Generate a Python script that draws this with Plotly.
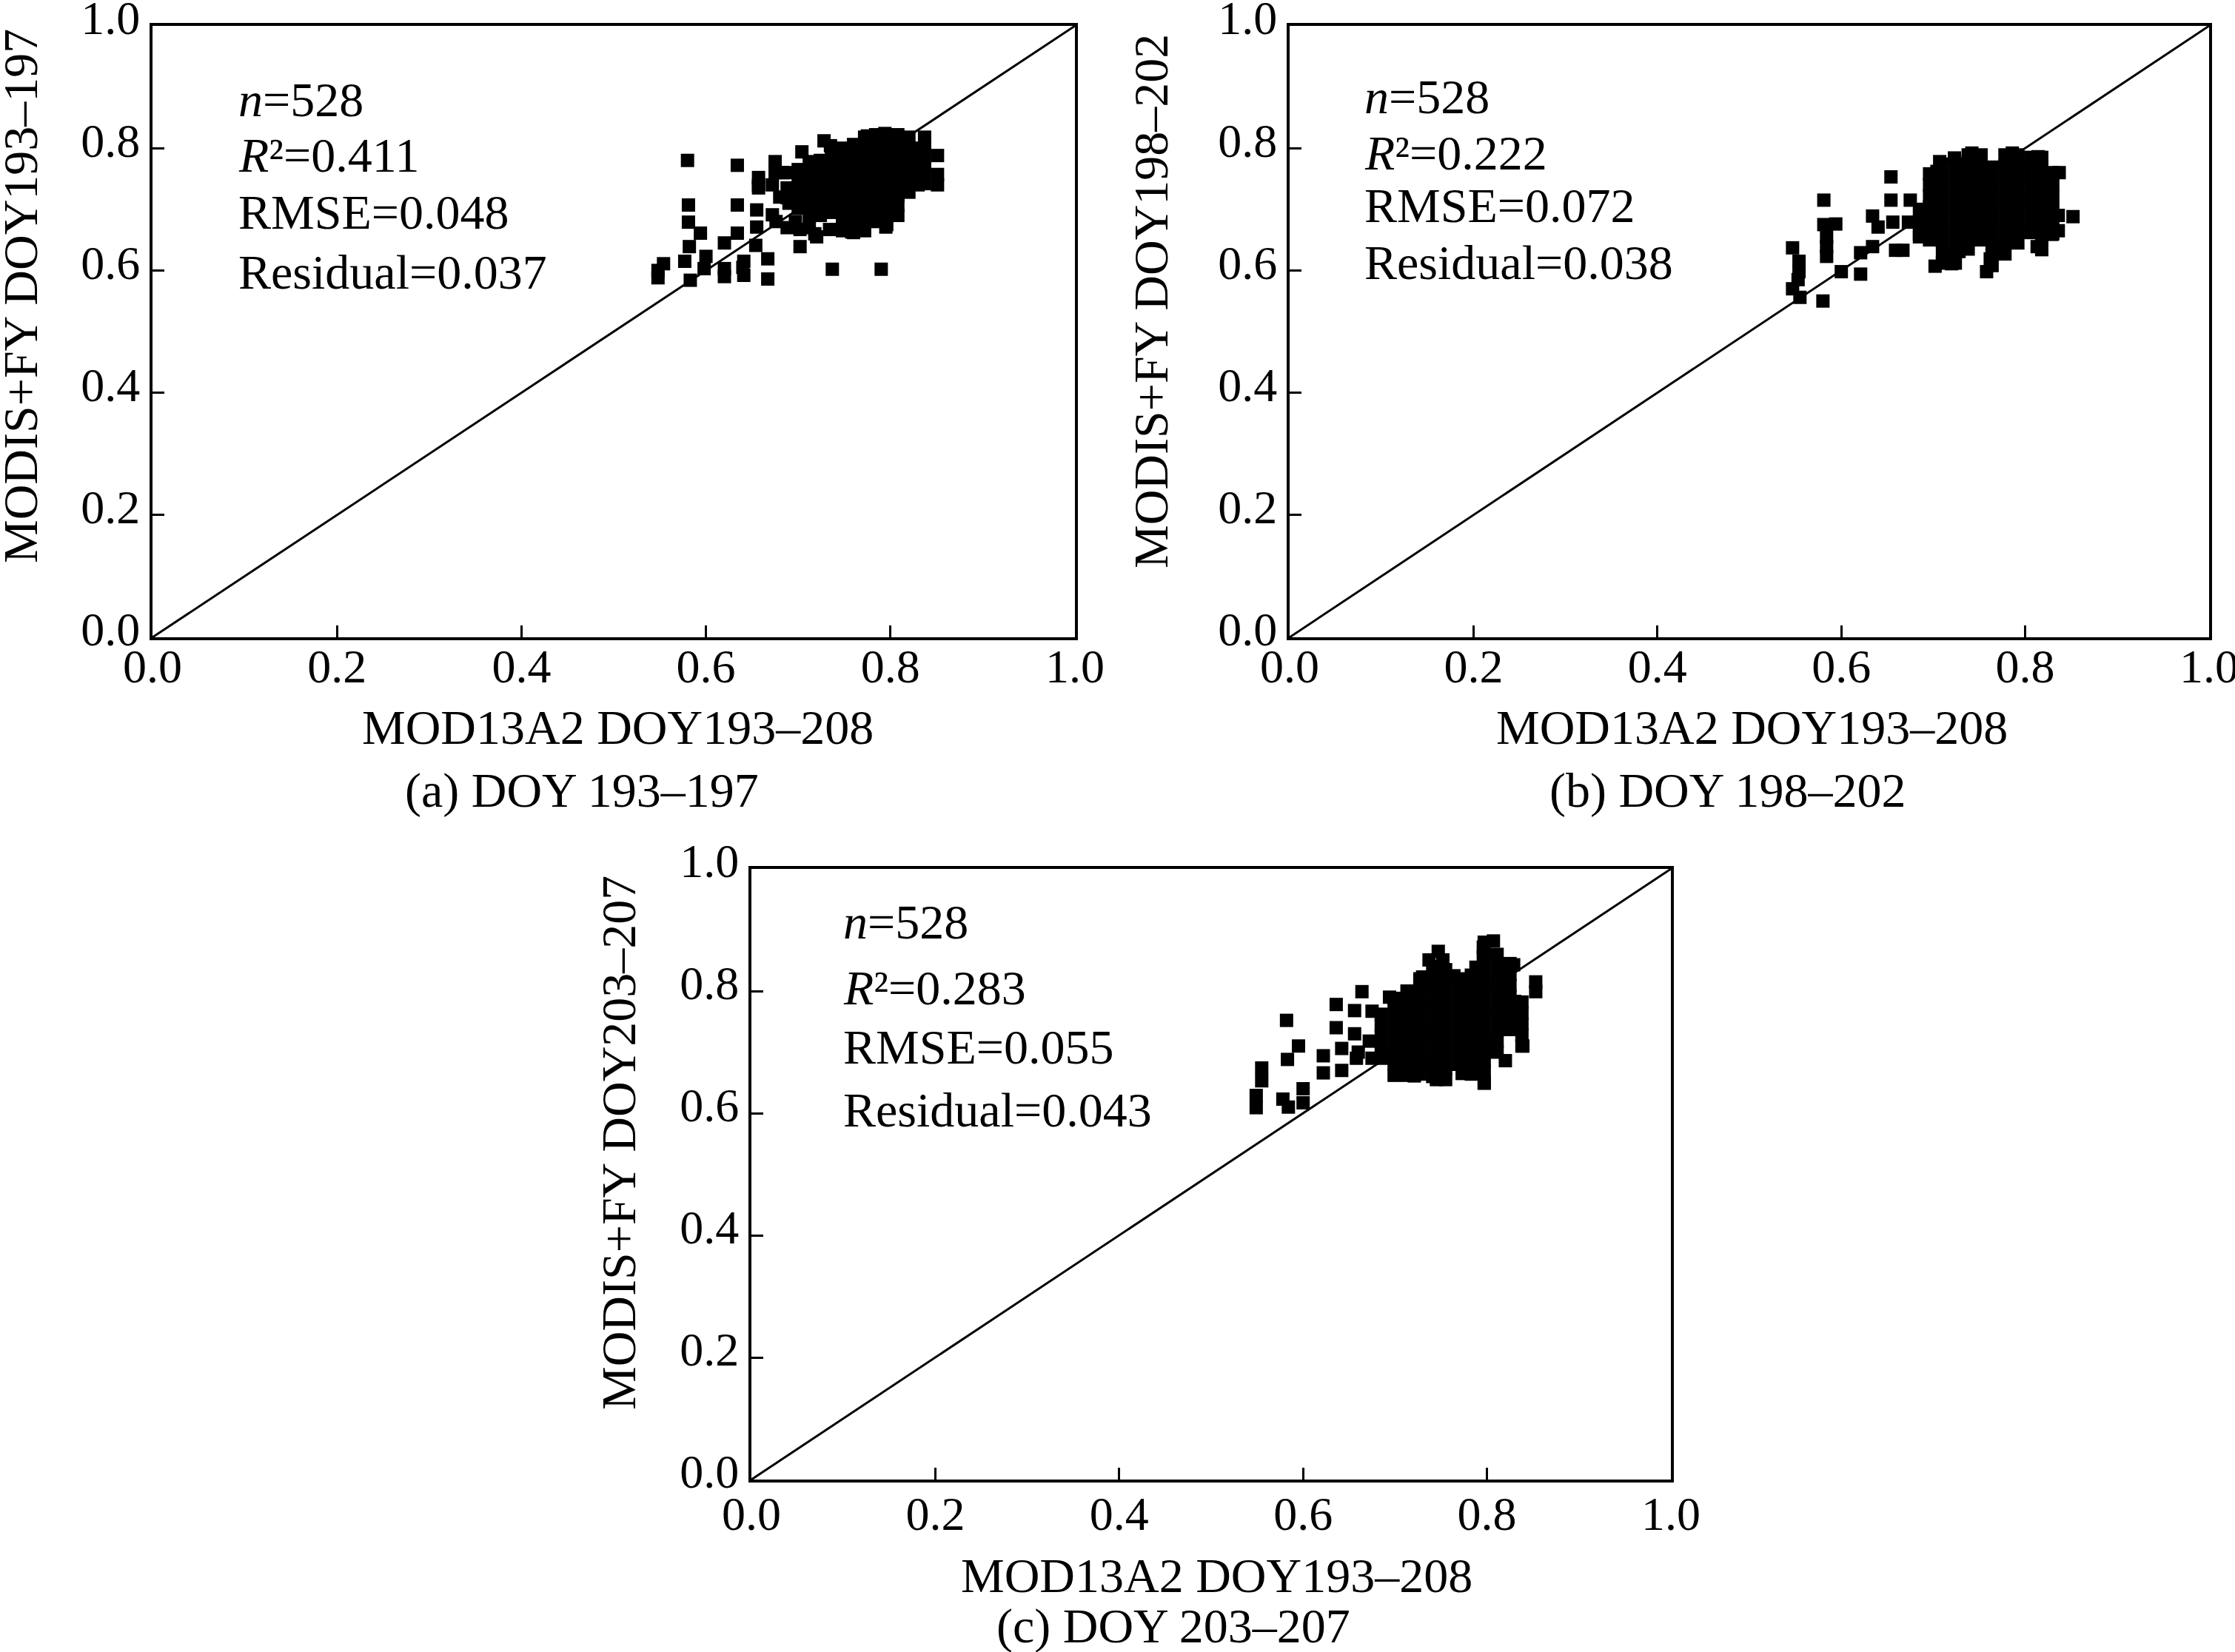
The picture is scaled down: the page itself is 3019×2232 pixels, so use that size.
import plotly.graph_objects as go

W, H = 3019, 2232
FONT = "Liberation Serif, Times New Roman, serif"

# points: (MOD13A2, MODIS+FY)
# isolated squares around each cloud
outliers_a = [
    (0.548, 0.600), (0.554, 0.611), (0.548, 0.588), (0.580, 0.780), (0.581, 0.707),
    (0.581, 0.679), (0.594, 0.661), (0.582, 0.639), (0.577, 0.615), (0.583, 0.584),
    (0.600, 0.623), (0.598, 0.603), (0.620, 0.603), (0.620, 0.645), (0.620, 0.590),
    (0.634, 0.772), (0.634, 0.707), (0.634, 0.661), (0.640, 0.605), (0.641, 0.592),
    (0.641, 0.615), (0.655, 0.671), (0.655, 0.699), (0.654, 0.641), (0.657, 0.740),
    (0.657, 0.752), (0.667, 0.619), (0.667, 0.586), (0.672, 0.691), (0.675, 0.778),
    (0.683, 0.760), (0.688, 0.719), (0.702, 0.639), (0.702, 0.667), (0.704, 0.794),
    (0.720, 0.655), (0.734, 0.667), (0.735, 0.804), (0.737, 0.602), (0.758, 0.663),
    (0.775, 0.820), (0.790, 0.602), (0.794, 0.824), (0.795, 0.671), (0.837, 0.818),
    (0.837, 0.760), (0.851, 0.788), (0.851, 0.757), (0.851, 0.740), (0.837, 0.800),
    (0.837, 0.780), (0.837, 0.742), (0.672, 0.740), (0.680, 0.720), (0.676, 0.680),
    (0.690, 0.710), (0.688, 0.670), (0.697, 0.680), (0.718, 0.660), (0.657, 0.735),
    (0.728, 0.812), (0.688, 0.735), (0.675, 0.760), (0.688, 0.760),
]
# the solid core of the cloud
core_a = [
    (0.700, 0.702), (0.700, 0.718), (0.700, 0.734), (0.700, 0.750), (0.700, 0.765),
    (0.712, 0.670), (0.712, 0.688), (0.712, 0.706), (0.712, 0.724), (0.712, 0.742),
    (0.712, 0.760), (0.712, 0.778),
    (0.724, 0.690), (0.724, 0.708), (0.724, 0.726), (0.724, 0.744), (0.724, 0.762),
    (0.724, 0.780),
    (0.736, 0.695), (0.736, 0.713), (0.736, 0.731), (0.736, 0.749), (0.736, 0.767),
    (0.736, 0.785),
    (0.748, 0.665), (0.748, 0.683), (0.748, 0.701), (0.748, 0.719), (0.748, 0.737),
    (0.748, 0.755), (0.748, 0.773), (0.748, 0.791), (0.748, 0.800),
    (0.760, 0.662), (0.760, 0.680), (0.760, 0.698), (0.760, 0.716), (0.760, 0.734),
    (0.760, 0.752), (0.760, 0.770), (0.760, 0.788), (0.760, 0.806),
    (0.772, 0.665), (0.772, 0.683), (0.772, 0.701), (0.772, 0.719), (0.772, 0.737),
    (0.772, 0.755), (0.772, 0.773), (0.772, 0.791), (0.772, 0.809), (0.772, 0.818),
    (0.784, 0.680), (0.784, 0.698), (0.784, 0.716), (0.784, 0.734), (0.784, 0.752),
    (0.784, 0.770), (0.784, 0.788), (0.784, 0.806), (0.784, 0.822),
    (0.796, 0.675), (0.796, 0.693), (0.796, 0.711), (0.796, 0.729), (0.796, 0.747),
    (0.796, 0.765), (0.796, 0.783), (0.796, 0.801), (0.796, 0.819),
    (0.808, 0.690), (0.808, 0.706), (0.808, 0.722), (0.808, 0.738), (0.808, 0.754),
    (0.808, 0.770), (0.808, 0.788), (0.808, 0.806), (0.808, 0.822),
    (0.820, 0.728), (0.820, 0.746), (0.820, 0.764), (0.820, 0.782), (0.820, 0.800),
    (0.820, 0.818),
    (0.830, 0.740), (0.830, 0.760), (0.830, 0.780), (0.830, 0.800),
]

outliers_b = [
    (0.547, 0.637), (0.554, 0.615), (0.554, 0.598), (0.553, 0.585), (0.547, 0.570),
    (0.555, 0.556), (0.580, 0.550), (0.581, 0.715), (0.581, 0.675), (0.594, 0.676),
    (0.584, 0.655), (0.584, 0.639), (0.584, 0.623), (0.600, 0.598), (0.621, 0.594),
    (0.621, 0.629), (0.634, 0.639), (0.634, 0.689), (0.640, 0.671), (0.654, 0.753),
    (0.654, 0.715), (0.656, 0.679), (0.659, 0.633), (0.667, 0.633), (0.675, 0.715),
    (0.673, 0.679), (0.685, 0.655), (0.702, 0.607), (0.720, 0.611), (0.720, 0.625),
    (0.728, 0.631), (0.758, 0.598), (0.762, 0.619), (0.777, 0.639), (0.791, 0.651),
    (0.813, 0.639), (0.829, 0.659), (0.852, 0.688), (0.827, 0.715), (0.837, 0.760),
    (0.814, 0.786), (0.786, 0.792), (0.742, 0.792), (0.723, 0.784), (0.707, 0.778),
    (0.704, 0.762),
]
core_b = [
    (0.685, 0.660), (0.685, 0.680), (0.685, 0.700),
    (0.696, 0.650), (0.696, 0.668), (0.696, 0.686), (0.696, 0.704), (0.696, 0.722),
    (0.696, 0.740), (0.696, 0.758),
    (0.710, 0.612), (0.710, 0.630), (0.710, 0.648), (0.710, 0.666), (0.710, 0.684),
    (0.710, 0.702), (0.710, 0.720), (0.710, 0.738), (0.710, 0.756), (0.710, 0.774),
    (0.724, 0.612), (0.724, 0.630), (0.724, 0.648), (0.724, 0.666), (0.724, 0.684),
    (0.724, 0.702), (0.724, 0.720), (0.724, 0.738), (0.724, 0.756), (0.724, 0.774),
    (0.738, 0.635), (0.738, 0.653), (0.738, 0.671), (0.738, 0.689), (0.738, 0.707),
    (0.738, 0.725), (0.738, 0.743), (0.738, 0.761), (0.738, 0.779), (0.738, 0.789),
    (0.752, 0.650), (0.752, 0.668), (0.752, 0.686), (0.752, 0.704), (0.752, 0.722),
    (0.752, 0.740), (0.752, 0.758), (0.752, 0.776), (0.752, 0.789),
    (0.764, 0.608), (0.764, 0.626), (0.764, 0.644), (0.764, 0.662), (0.764, 0.680),
    (0.764, 0.698), (0.764, 0.716), (0.764, 0.734), (0.764, 0.752), (0.764, 0.769),
    (0.778, 0.627), (0.778, 0.645), (0.778, 0.663), (0.778, 0.681), (0.778, 0.699),
    (0.778, 0.717), (0.778, 0.735), (0.778, 0.753), (0.778, 0.771), (0.778, 0.789),
    (0.792, 0.645), (0.792, 0.663), (0.792, 0.681), (0.792, 0.699), (0.792, 0.717),
    (0.792, 0.735), (0.792, 0.753), (0.792, 0.771), (0.792, 0.789),
    (0.806, 0.662), (0.806, 0.680), (0.806, 0.698), (0.806, 0.716), (0.806, 0.734),
    (0.806, 0.752), (0.806, 0.770), (0.806, 0.785),
    (0.818, 0.634), (0.818, 0.652), (0.818, 0.670), (0.818, 0.688), (0.818, 0.706),
    (0.818, 0.724), (0.818, 0.742), (0.818, 0.760), (0.818, 0.778), (0.818, 0.785),
    (0.830, 0.660), (0.830, 0.680), (0.830, 0.700), (0.830, 0.720), (0.830, 0.740),
    (0.830, 0.760),
    (0.836, 0.665), (0.836, 0.690),
]

outliers_c = [
    (0.549, 0.609), (0.549, 0.629), (0.555, 0.653), (0.555, 0.674), (0.578, 0.623),
    (0.584, 0.610), (0.582, 0.752), (0.583, 0.688), (0.595, 0.710), (0.600, 0.640),
    (0.600, 0.617), (0.622, 0.694), (0.622, 0.666), (0.636, 0.778), (0.636, 0.740),
    (0.642, 0.706), (0.642, 0.670), (0.656, 0.768), (0.664, 0.799), (0.656, 0.730),
    (0.658, 0.690), (0.675, 0.767), (0.672, 0.718), (0.686, 0.694), (0.694, 0.790),
    (0.703, 0.663), (0.721, 0.661), (0.745, 0.655), (0.737, 0.851), (0.747, 0.865),
    (0.752, 0.851), (0.730, 0.823), (0.764, 0.825), (0.796, 0.872), (0.807, 0.882),
    (0.829, 0.843), (0.853, 0.815), (0.853, 0.799), (0.830, 0.783), (0.837, 0.742),
    (0.839, 0.710), (0.820, 0.686), (0.797, 0.649), (0.773, 0.665), (0.790, 0.665),
    (0.802, 0.710), (0.788, 0.839), (0.796, 0.856), (0.660, 0.700), (0.675, 0.690),
    (0.690, 0.700),
]
core_c = [
    (0.685, 0.690), (0.685, 0.708), (0.685, 0.726), (0.685, 0.744), (0.685, 0.762),
    (0.699, 0.662), (0.699, 0.680), (0.699, 0.698), (0.699, 0.716), (0.699, 0.734),
    (0.699, 0.752), (0.699, 0.770), (0.699, 0.788),
    (0.713, 0.662), (0.713, 0.680), (0.713, 0.698), (0.713, 0.716), (0.713, 0.734),
    (0.713, 0.752), (0.713, 0.770), (0.713, 0.788), (0.713, 0.800),
    (0.727, 0.664), (0.727, 0.682), (0.727, 0.700), (0.727, 0.718), (0.727, 0.736),
    (0.727, 0.754), (0.727, 0.772), (0.727, 0.790), (0.727, 0.808), (0.727, 0.820),
    (0.741, 0.660), (0.741, 0.678), (0.741, 0.696), (0.741, 0.714), (0.741, 0.732),
    (0.741, 0.750), (0.741, 0.768), (0.741, 0.786), (0.741, 0.804), (0.741, 0.822),
    (0.741, 0.840),
    (0.755, 0.655), (0.755, 0.673), (0.755, 0.691), (0.755, 0.709), (0.755, 0.727),
    (0.755, 0.745), (0.755, 0.763), (0.755, 0.781), (0.755, 0.799), (0.755, 0.817),
    (0.755, 0.835),
    (0.769, 0.680), (0.769, 0.698), (0.769, 0.716), (0.769, 0.734), (0.769, 0.752),
    (0.769, 0.770), (0.769, 0.788), (0.769, 0.806), (0.769, 0.820),
    (0.783, 0.664), (0.783, 0.682), (0.783, 0.700), (0.783, 0.718), (0.783, 0.736),
    (0.783, 0.754), (0.783, 0.772), (0.783, 0.790), (0.783, 0.808), (0.783, 0.826),
    (0.797, 0.650), (0.797, 0.668), (0.797, 0.686), (0.797, 0.704), (0.797, 0.722),
    (0.797, 0.740), (0.797, 0.758), (0.797, 0.776), (0.797, 0.794), (0.797, 0.812),
    (0.797, 0.830), (0.797, 0.848), (0.797, 0.866), (0.797, 0.880),
    (0.811, 0.700), (0.811, 0.718), (0.811, 0.736), (0.811, 0.754), (0.811, 0.772),
    (0.811, 0.790), (0.811, 0.808), (0.811, 0.826), (0.811, 0.844), (0.811, 0.860),
    (0.825, 0.737), (0.825, 0.755), (0.825, 0.773), (0.825, 0.791), (0.825, 0.809),
    (0.825, 0.827), (0.825, 0.845),
    (0.838, 0.710), (0.838, 0.728), (0.838, 0.746), (0.838, 0.764), (0.838, 0.782),
]

stats_a = ["<i>n</i>=528", "<i>R</i>²=0.411", "RMSE=0.048", "Residual=0.037"]
stats_b = ["<i>n</i>=528", "<i>R</i>²=0.222", "RMSE=0.072", "Residual=0.038"]
stats_c = ["<i>n</i>=528", "<i>R</i>²=0.283", "RMSE=0.055", "Residual=0.043"]

x_title = "MOD13A2 DOY193–208"
y_titles = ["MODIS+FY DOY193–197", "MODIS+FY DOY198–202", "MODIS+FY DOY203–207"]
captions = ["(a) DOY 193–197", "(b) DOY 198–202", "(c) DOY 203–207"]
tick_vals = [0.0, 0.2, 0.4, 0.6, 0.8, 1.0]
one_to_one = [0.0, 1.0]

# panel boxes in pixels (left, right, top, bottom) and text placement
panels = [
    dict(box=(206, 1452, 35, 861), pts=outliers_a + core_a, stats=stats_a,
         sx=0.0915, sy=[0.880, 0.789, 0.695, 0.598], xpad=-20,
         xt=(835, 982), cap=(786, 1068), yt=(27, 400)),
    dict(box=(1742, 2984, 35, 861), pts=outliers_b + core_b, stats=stats_b,
         sx=0.0797, sy=[0.884, 0.792, 0.707, 0.613], xpad=-20,
         xt=(2366, 982), cap=(2334, 1068), yt=(1555, 407)),
    dict(box=(1015, 2257, 1174, 1999), pts=outliers_c + core_c, stats=stats_c,
         sx=0.0982, sy=[0.913, 0.806, 0.709, 0.606], xpad=-13,
         xt=(1643, 2128), cap=(1585, 2197), yt=(835, 1544)),
]


def px(X):
    return X / W


def py(Y):
    return 1 - Y / H


fig = go.Figure()
annotations = []
text_font = dict(family=FONT, size=66, color="black")

for i, p in enumerate(panels):
    n = "" if i == 0 else str(i + 1)
    xs = [pt[0] for pt in p["pts"]]
    ys = [pt[1] for pt in p["pts"]]

    # 1:1 line first so the squares sit on top of it
    fig.add_trace(
        go.Scatter(
            x=one_to_one, y=one_to_one, mode="lines",
            line=dict(color="black", width=3),
            xaxis="x" + n, yaxis="y" + n, showlegend=False,
        )
    )
    fig.add_trace(
        go.Scatter(
            x=xs, y=ys, mode="markers",
            marker=dict(symbol="square", size=18, color="black"),
            xaxis="x" + n, yaxis="y" + n, showlegend=False,
        )
    )

    left, right, top, bottom = p["box"]
    axis_style = dict(
        range=[0, 1], tickvals=tick_vals, tickformat=".1f",
        ticks="inside", ticklen=16, tickwidth=3, tickcolor="black",
        showline=True, linecolor="black", linewidth=4, mirror=True,
        showgrid=False, zeroline=False, automargin=False,
        ticklabeloverflow="allow",
        tickfont=dict(family=FONT, size=64, color="black"),
    )
    fig.update_layout(
        {
            "xaxis" + n: dict(axis_style, domain=[px(left), px(right)], anchor="y" + n,
                              ticklabelstandoff=p["xpad"]),
            "yaxis" + n: dict(axis_style, domain=[py(bottom), py(top)], anchor="x" + n,
                              ticklabelshift=-11),
        }
    )

    for text, yv in zip(p["stats"], p["sy"]):
        annotations.append(
            dict(text=text, x=p["sx"], y=yv, xref="x" + n, yref="y" + n,
                 xanchor="left", yanchor="middle", showarrow=False, font=text_font)
        )

    annotations.append(
        dict(text=x_title, x=px(p["xt"][0]), y=py(p["xt"][1]), xref="paper", yref="paper",
             xanchor="center", yanchor="middle", showarrow=False, font=text_font)
    )
    annotations.append(
        dict(text=captions[i], x=px(p["cap"][0]), y=py(p["cap"][1]), xref="paper", yref="paper",
             xanchor="center", yanchor="middle", showarrow=False, font=text_font)
    )
    annotations.append(
        dict(text=y_titles[i], x=px(p["yt"][0]), y=py(p["yt"][1]), xref="paper", yref="paper",
             xanchor="center", yanchor="middle", textangle=-90, showarrow=False, font=text_font)
    )

fig.update_layout(
    width=W, height=H,
    margin=dict(l=0, r=0, t=0, b=0, pad=0, autoexpand=False),
    paper_bgcolor="white", plot_bgcolor="white",
    font=dict(family=FONT, color="black"),
    annotations=annotations,
    showlegend=False,
)

fig.write_html("out.html", config={"displayModeBar": False},
               post_script="document.body.style.margin='0';")
